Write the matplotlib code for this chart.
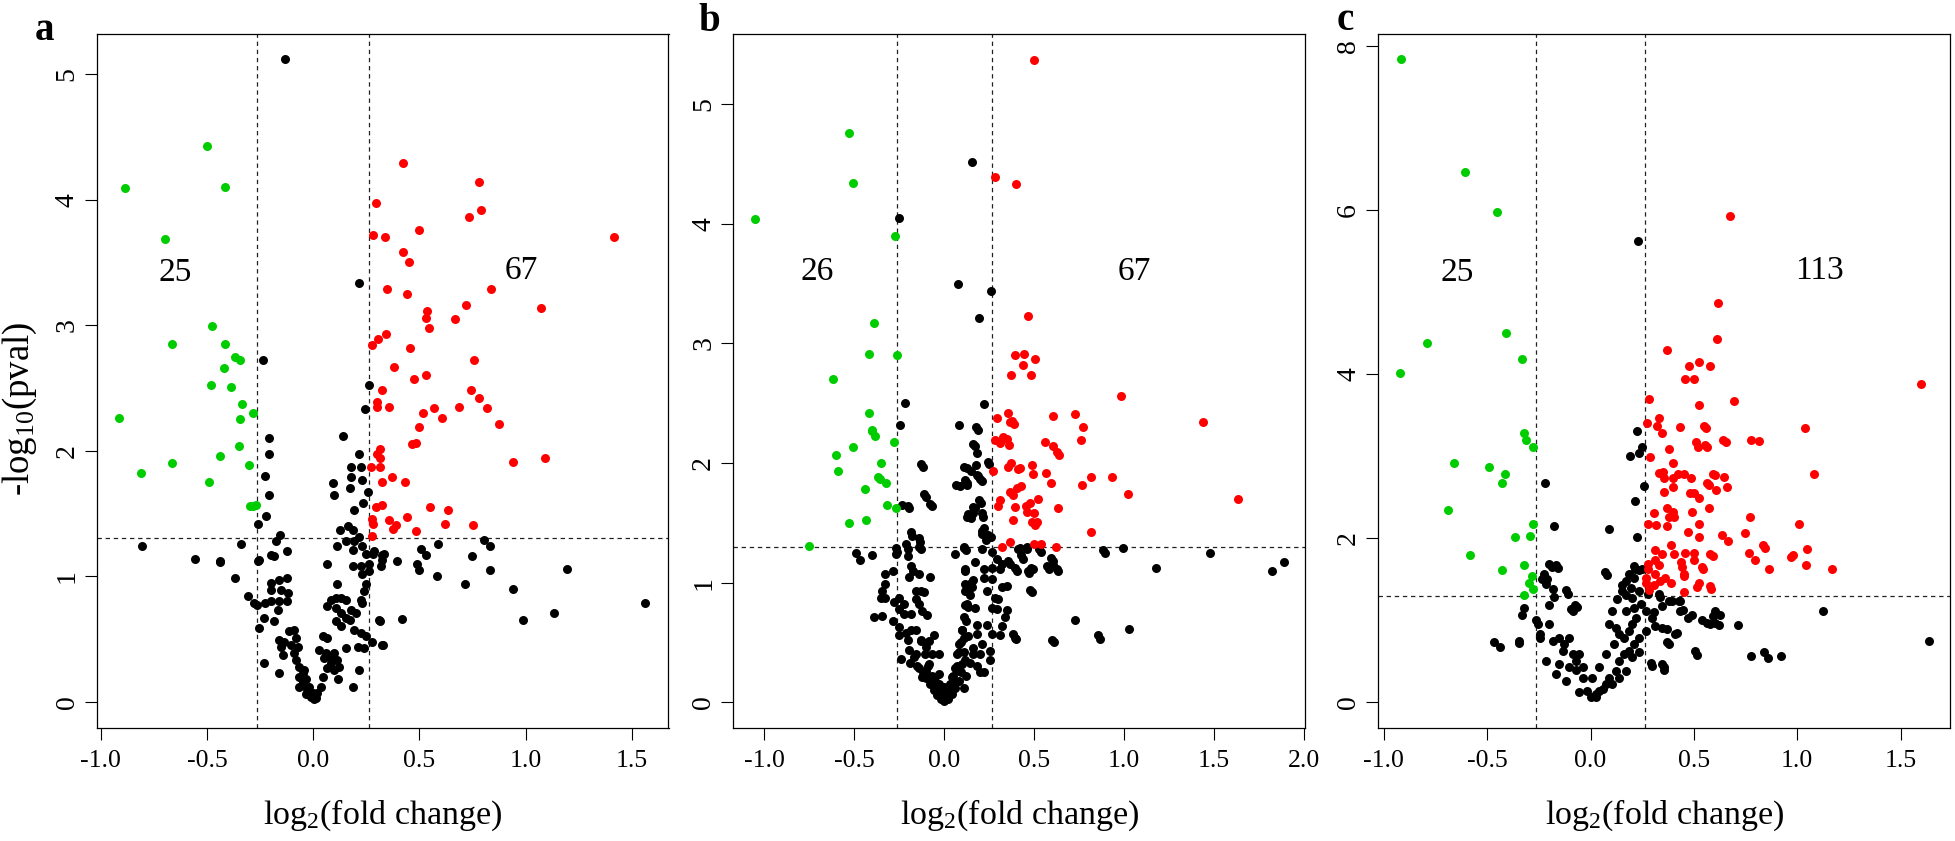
import matplotlib
matplotlib.use('Agg')
import matplotlib.pyplot as plt

plt.rcParams['font.family'] = ['Liberation Serif', 'DejaVu Serif']
plt.rcParams['mathtext.fontset'] = 'custom'
plt.rcParams['mathtext.rm'] = 'Liberation Serif'
plt.rcParams['mathtext.it'] = 'Liberation Serif:italic'
plt.rcParams['axes.unicode_minus'] = False

# ---------------- data: panel a ----------------
a_down = [(-0.886,4.09),(-0.498,4.43),(-0.416,4.10),(-0.696,3.69),(-0.478,2.99),(-0.667,2.85),
          (-0.414,2.85),(-0.369,2.75),(-0.343,2.72),(-0.418,2.66),(-0.482,2.52),(-0.388,2.51),
          (-0.337,2.37),(-0.916,2.26),(-0.282,2.30),(-0.343,2.25),(-0.351,2.04),(-0.441,1.96),
          (-0.667,1.90),(-0.304,1.89),(-0.810,1.82),(-0.492,1.75),(-0.296,1.56),(-0.271,1.57),
          (-0.285,1.56)]
a_up = [(0.424,4.29),(0.782,4.14),(0.298,3.97),(0.790,3.92),(0.733,3.86),(0.496,3.76),(0.280,3.72),
        (0.339,3.70),(1.416,3.70),(0.424,3.58),(0.449,3.50),(0.347,3.29),(0.839,3.29),(0.443,3.25),
        (0.720,3.16),(1.073,3.14),(0.535,3.11),(0.533,3.06),(0.667,3.05),(0.543,2.98),(0.345,2.93),
        (0.306,2.89),(0.278,2.84),(0.455,2.82),(0.757,2.72),(0.380,2.67),(0.533,2.60),(0.476,2.57),
        (0.324,2.48),(0.745,2.48),(0.780,2.42),(0.302,2.39),(0.300,2.35),(0.359,2.35),(0.567,2.34),
        (0.688,2.35),(0.818,2.34),(0.518,2.30),(0.606,2.26),(0.876,2.21),(0.496,2.19),(0.316,2.01),
        (0.465,2.05),(0.484,2.06),(0.316,1.94),(1.090,1.94),(0.939,1.91),(0.316,1.87),(0.271,1.87),
        (0.369,1.79),(0.324,1.75),(0.433,1.75),(0.324,1.57),(0.296,1.55),(0.549,1.55),(0.635,1.53),
        (0.278,1.46),(0.441,1.47),(0.357,1.45),(0.282,1.42),(0.620,1.42),(0.388,1.41),(0.753,1.41),
        (0.378,1.38),(0.486,1.36),(0.276,1.32),(0.300,1.97)]
a_ns = [(-0.131,5.12),(0.214,3.34),(-0.235,2.72),(0.263,2.52),(0.245,2.33),(0.141,2.12),(-0.210,2.10),
        (-0.208,1.97),(0.218,1.97),(0.180,1.87),(0.223,1.87),(-0.226,1.80),(0.177,1.79),(0.231,1.77),
        (0.094,1.74),(0.172,1.70),(0.258,1.67),(0.097,1.65),(-0.206,1.65),(0.233,1.58),(0.194,1.53),
        (-0.224,1.48),(-0.260,1.42),(0.163,1.40),(0.189,1.37),(0.127,1.37),(-0.158,1.33),(-0.338,1.26),
        (-0.175,1.28),(-0.125,1.20),(0.114,1.24),(0.153,1.28),(0.192,1.28),(0.216,1.31),(0.189,1.21),
        (0.231,1.24),(0.247,1.18),(-0.198,1.17),(-0.183,1.16),(-0.441,1.12),(-0.261,1.12),(0.067,1.10),
        (0.189,1.08),(0.225,1.08),(0.263,1.10),(0.280,1.18),(0.284,1.20),(0.325,1.17),(0.325,1.13),
        (0.317,1.08),(0.335,1.18),(0.395,1.12),(-0.367,0.99),(0.231,1.02),(0.263,1.04),(-0.198,0.95),
        (-0.159,0.97),(-0.125,0.99),(0.111,0.94),(0.247,0.94),(0.239,0.88),(0.223,0.81),(-0.198,0.89),
        (-0.152,0.89),(-0.120,0.87),(-0.305,0.84),(-0.277,0.79),(-0.225,0.79),(-0.198,0.80),(-0.159,0.80),
        (-0.125,0.80),(-0.164,0.73),(-0.183,0.64),(-0.230,0.67),(-0.253,0.59),(0.083,0.81),(0.106,0.83),
        (0.130,0.83),(0.153,0.81),(0.067,0.76),(0.106,0.75),(0.130,0.71),(0.177,0.73),(0.200,0.71),
        (0.231,0.79),(0.106,0.64),(0.130,0.60),(0.153,0.67),(0.172,0.65),(0.192,0.57),(0.223,0.55),
        (0.247,0.52),(0.278,0.48),(0.239,0.43),(0.309,0.65),(0.325,0.45),(0.153,0.43),(0.213,0.44),
        (-0.112,0.56),(-0.089,0.57),(-0.081,0.51),(-0.159,0.49),(-0.136,0.48),(-0.152,0.44),(-0.105,0.45),
        (-0.073,0.44),(-0.141,0.37),(-0.089,0.39),(-0.230,0.31),(-0.159,0.23),(-0.081,0.33),(-0.066,0.28),
        (-0.050,0.23),(-0.034,0.18),(-0.019,0.12),(-0.003,0.07),(0.005,0.02),(-0.050,0.16),(-0.027,0.10),
        (0.020,0.07),(0.036,0.12),(0.047,0.20),(0.067,0.27),(0.083,0.31),(0.098,0.39),(0.052,0.35),
        (0.083,0.36),(0.044,0.52),(0.067,0.51),(0.028,0.41),(0.114,0.33),(0.122,0.28),(0.098,0.25),
        (0.216,0.25),(0.189,0.12),(-0.011,0.04),(0.013,0.03),(-0.034,0.06),(-0.066,0.20),(-0.042,0.25),
        (-0.066,0.12),(0.119,0.18),(0.059,0.39),(-0.808,1.24),(-0.557,1.14),(-0.437,1.11),(-0.257,1.13),
        (-0.265,0.77),(0.804,1.29),(0.831,1.24),(0.590,1.26),(0.509,1.22),(0.531,1.17),(0.490,1.10),
        (0.500,1.05),(0.585,1.00),(0.748,1.16),(0.832,1.05),(0.715,0.94),(0.943,0.90),(1.193,1.06),
        (1.564,0.79),(0.987,0.65),(1.136,0.71),(0.417,0.66),(0.314,0.64),(0.328,0.45)]

# ---------------- data: panel b ----------------
b_down = [(-1.054,4.04),(-0.532,4.76),(-0.508,4.34),(-0.272,3.90),(-0.392,3.17),(-0.421,2.91),
          (-0.265,2.90),(-0.621,2.70),(-0.416,2.42),(-0.400,2.27),(-0.383,2.23),(-0.282,2.18),
          (-0.510,2.13),(-0.602,2.07),(-0.354,2.00),(-0.590,1.93),(-0.359,1.87),(-0.327,1.83),
          (-0.443,1.78),(-0.318,1.65),(-0.267,1.62),(-0.532,1.50),(-0.433,1.52),(-0.751,1.31),
          (-0.404,2.28),(-0.366,1.88)]
b_up = [(0.501,5.37),(0.282,4.39),(0.397,4.33),(0.464,3.23),(0.392,2.90),(0.443,2.91),(0.505,2.87),
        (0.438,2.82),(0.368,2.74),(0.481,2.74),(0.984,2.56),(1.439,2.34),(0.291,2.38),(0.354,2.42),
        (0.363,2.34),(0.390,2.33),(0.604,2.39),(0.724,2.41),(0.770,2.30),(0.282,2.19),(0.308,2.17),
        (0.325,2.22),(0.349,2.20),(0.361,2.15),(0.558,2.18),(0.604,2.14),(0.760,2.19),(0.640,2.07),
        (0.272,1.93),(0.354,1.97),(0.371,2.00),(0.412,1.95),(0.421,1.96),(0.486,1.98),(0.493,1.91),
        (0.566,1.92),(0.595,1.83),(0.813,1.88),(0.934,1.88),(0.765,1.82),(1.020,1.74),(0.366,1.76),
        (0.380,1.73),(0.402,1.79),(0.428,1.81),(0.308,1.69),(0.298,1.64),(0.392,1.63),(0.452,1.64),
        (0.474,1.67),(0.520,1.70),(0.498,1.58),(0.462,1.59),(0.633,1.62),(1.632,1.70),(0.380,1.52),
        (0.486,1.51),(0.517,1.51),(0.505,1.48),(0.363,1.34),(0.816,1.42),(0.498,1.32),(0.536,1.32),
        (0.318,1.30),(0.623,1.30),(0.378,2.35),(0.628,2.09)]
b_ns = [(0.152,4.52),(-0.250,4.05),(0.075,3.50),(0.258,3.44),(0.193,3.21),(-0.221,2.50),(0.219,2.49),
        (-0.245,2.32),(0.079,2.32),(0.188,2.28),(0.171,2.14),(0.183,2.08),(-0.120,1.97),(0.111,1.97),
        (0.176,1.98),(0.250,1.99),(0.149,1.93),(0.188,1.89),(0.209,1.85),(0.087,1.81),(0.128,1.83),
        (-0.103,1.72),(-0.070,1.64),(-0.236,1.65),(-0.195,1.62),(0.205,1.67),(0.173,1.62),(0.159,1.58),
        (0.147,1.54),(0.214,1.55),(-0.181,1.39),(0.209,1.43),(0.258,1.38),(-0.135,1.34),(-0.265,1.26),
        (-0.200,1.28),(-0.130,1.28),(0.118,1.27),(0.412,1.28),(0.462,1.28),(0.539,1.26),(0.895,1.25),
        (0.992,1.29),(1.475,1.25),(-0.489,1.25),(-0.467,1.19),(-0.404,1.23),(1.179,1.12),(1.820,1.10),
        (1.887,1.17),(0.486,0.92),(0.724,0.69),(0.611,0.50),(0.866,0.53),(1.028,0.61),(0.397,0.53),
        (0.602,1.18),(0.583,1.11),(0.631,1.10),(0.440,1.20),(0.472,1.08),(0.491,1.11),(0.402,1.10),
        (0.366,1.16),(0.318,1.16),
        (-0.128,1.99),(0.066,1.82),(-0.114,1.74),(-0.077,1.66),(-0.202,1.64),(0.126,1.55),(-0.187,1.42),
        (-0.141,1.37),(-0.141,1.30),(-0.211,1.32),(-0.266,1.29),(-0.266,1.24),(-0.202,1.22),(0.061,1.24),
        (0.107,1.29),(-0.288,1.10),(-0.331,1.07),(-0.185,1.14),(-0.176,1.10),(-0.195,1.05),(-0.141,1.07),
        (-0.082,1.05),(0.117,1.10),(-0.331,0.99),(-0.344,0.93),(-0.353,0.87),(-0.331,0.87),(-0.252,0.87),
        (-0.224,0.82),(-0.160,0.93),(-0.132,0.93),(-0.114,0.92),(-0.160,0.86),(-0.141,0.82),(-0.123,0.76),
        (-0.095,0.73),(-0.279,0.84),(-0.252,0.78),(-0.224,0.74),(-0.187,0.74),(-0.390,0.71),(-0.344,0.72),
        (-0.288,0.68),(-0.252,0.63),(-0.252,0.56),(-0.215,0.58),(-0.187,0.60),(-0.132,0.51),(-0.086,0.51),
        (-0.058,0.56),(-0.104,0.46),(-0.068,0.40),(-0.031,0.40),(-0.243,0.36),(-0.197,0.44),(-0.160,0.40),
        (-0.141,0.29),(-0.104,0.26),(-0.068,0.21),(-0.031,0.15),(0.006,0.07),(-0.031,0.24),(-0.086,0.32),
        (-0.123,0.21),(0.043,0.21),(0.080,0.26),(0.117,0.35),(0.107,0.54),(0.107,0.71),(0.126,0.82),
        (0.126,0.93),(0.117,0.99),(0.025,0.10),(0.052,0.15),(-0.003,0.13),(-0.058,0.14),(0.080,0.49),
        (0.098,0.60),(0.070,0.40),(0.061,0.29),
        (0.177,2.30),(0.162,2.16),(0.240,2.01),(0.125,1.96),(0.181,1.90),(0.199,1.87),(0.113,1.86),
        (0.125,1.82),(0.194,1.69),(0.162,1.63),(0.209,1.58),(0.131,1.57),(0.218,1.46),(0.209,1.41),
        (0.245,1.40),(0.230,1.36),(0.107,1.30),(0.212,1.28),(0.264,1.26),(0.291,1.20),(0.420,1.29),
        (0.457,1.30),(0.527,1.28),(0.429,1.23),(0.356,1.18),(0.393,1.12),(0.466,1.10),(0.481,1.12),
        (0.591,1.21),(0.573,1.14),(0.628,1.11),(0.604,1.15),(0.880,1.27),(0.168,1.17),(0.218,1.11),
        (0.116,1.11),(0.264,1.12),(0.310,1.11),(0.162,1.02),(0.218,1.04),(0.264,1.03),(0.319,0.96),
        (0.346,0.97),(0.475,0.94),(0.116,0.93),(0.153,0.96),(0.116,0.81),(0.171,0.79),(0.236,0.93),
        (0.282,0.87),(0.300,0.86),(0.264,0.79),(0.291,0.78),(0.346,0.77),(0.337,0.71),(0.319,0.64),
        (0.264,0.57),(0.310,0.56),(0.383,0.57),(0.392,0.54),(0.600,0.52),(0.855,0.56),(0.181,0.65),
        (0.181,0.57),(0.236,0.65),(0.254,0.43),(0.254,0.35),(0.199,0.25),(0.107,0.12),(0.162,0.40),
        (0.208,0.49),
        (-0.150,0.30),(-0.120,0.25),(-0.100,0.20),(-0.080,0.15),(-0.060,0.10),(-0.040,0.06),(-0.020,0.03),
        (0.000,0.01),(0.020,0.03),(0.040,0.07),(0.060,0.12),(0.080,0.18),(0.090,0.25),(0.100,0.32),
        (0.110,0.42),(-0.170,0.38),(-0.190,0.33),(-0.090,0.30),(-0.050,0.18),(0.030,0.15),(0.050,0.22),
        (0.070,0.30),(0.080,0.42),(0.090,0.50),(0.100,0.60),(0.120,0.68),(0.130,0.80),(0.140,0.90),
        (0.150,1.00),(-0.010,0.08),(0.010,0.12),(-0.030,0.12),(-0.070,0.22),(0.140,0.33),(0.160,0.45),
        (0.130,0.55),(0.120,0.22),(0.180,0.30),(0.200,0.40),(0.220,0.25),(-0.110,0.40),(-0.130,0.52),
        (-0.160,0.60),(-0.200,0.52)]

# ---------------- data: panel c ----------------
c_down = [(-0.919,7.84),(-0.607,6.47),(-0.451,5.98),(-0.411,4.50),(-0.791,4.38),(-0.330,4.19),
          (-0.923,4.01),(-0.320,3.29),(-0.314,3.20),(-0.279,3.11),(-0.660,2.92),(-0.492,2.87),
          (-0.413,2.78),(-0.427,2.67),(-0.688,2.34),(-0.279,2.18),(-0.294,2.03),(-0.368,2.01),
          (-0.583,1.80),(-0.324,1.68),(-0.427,1.61),(-0.283,1.54),(-0.300,1.46),(-0.277,1.38),
          (-0.324,1.31)]
c_up = [(0.674,5.93),(0.617,4.87),(0.611,4.43),(0.372,4.30),(0.526,4.15),(0.478,4.10),(0.579,4.10),
        (0.455,3.94),(0.500,3.94),(1.597,3.88),(0.285,3.70),(0.692,3.68),(0.526,3.62),(0.330,3.47),
        (0.271,3.41),(0.320,3.37),(0.433,3.36),(0.557,3.34),(1.036,3.34),(0.348,3.28),(0.508,3.18),
        (0.777,3.20),(0.814,3.19),(0.654,3.17),(0.520,3.11),(0.565,3.11),(0.379,3.09),(0.289,2.99),
        (0.399,2.92),(0.332,2.80),(0.350,2.81),(0.423,2.79),(0.453,2.79),(0.399,2.74),(0.484,2.73),
        (0.354,2.73),(0.601,2.77),(0.646,2.75),(1.083,2.79),(0.573,2.65),(0.609,2.59),(0.662,2.63),
        (0.399,2.62),(0.354,2.56),(0.480,2.55),(0.500,2.55),(0.524,2.49),(0.370,2.37),(0.397,2.32),
        (0.575,2.37),(0.490,2.32),(0.379,2.26),(0.405,2.26),(0.306,2.31),(0.773,2.26),(0.277,2.18),
        (0.318,2.16),(0.370,2.15),(0.526,2.18),(1.010,2.18),(0.470,2.08),(0.636,2.04),(0.745,2.06),
        (0.526,2.01),(0.666,1.97),(0.387,1.92),(0.314,1.86),(0.344,1.81),(0.405,1.81),(0.455,1.82),
        (0.500,1.82),(0.844,1.88),(0.767,1.82),(1.047,1.87),(0.972,1.77),(0.978,1.80),(0.593,1.79),
        (0.310,1.73),(0.439,1.71),(0.500,1.73),(0.794,1.73),(0.332,1.67),(0.443,1.65),(1.043,1.67),
        (0.277,1.69),(0.545,1.62),(0.864,1.63),(1.170,1.63),(0.277,1.62),(0.314,1.57),(0.451,1.56),
        (0.269,1.52),(0.358,1.52),(0.453,1.54),(0.334,1.48),(0.389,1.46),(0.306,1.43),(0.516,1.41),
        (0.585,1.38),(0.451,1.35),(0.269,1.45),(0.285,1.37),(0.547,3.37),(0.555,3.14),(0.643,3.20),
        (0.590,2.79),(0.563,2.68),(0.836,1.92),(0.579,1.81),(0.539,1.65),(0.576,1.42),(0.523,1.45)]
c_ns = [(0.229,5.62),(0.227,3.31),(0.247,3.11),(0.233,3.04),(0.190,3.00),(0.257,2.64),(-0.219,2.68),
        (0.213,2.45),(-0.176,2.15),(0.089,2.11),(0.223,2.01),(-0.188,1.65),(-0.158,1.64),(0.213,1.62),
        (0.247,1.62),(0.079,1.55),(-0.233,1.50),(-0.209,1.50),(1.123,1.11),(1.638,0.75),(0.713,0.94),
        (0.777,0.56),(0.840,0.61),(0.858,0.54),(0.921,0.57),(0.516,0.58),(-0.468,0.73),(-0.439,0.67),
        (-0.346,0.72),(-0.334,1.07),(-0.322,1.15),(-0.253,0.96),(-0.243,0.79),(-0.107,1.32),(-0.067,1.16),
        (-0.087,1.11),(0.561,0.97),(0.591,1.05),(0.628,1.07),(0.601,0.97),(0.621,0.94),(0.429,1.23),
        (0.449,1.13),(0.470,1.03),(0.419,0.85),(0.379,0.71),(0.298,0.44),(0.354,0.43),(0.354,0.39),
        (0.338,1.29),(0.379,1.23),(-0.199,1.69),(-0.167,1.68),(-0.223,1.56),(-0.215,1.44),(-0.183,1.38),
        (-0.175,1.28),(-0.199,1.19),(-0.119,1.37),(-0.074,1.19),(-0.095,1.14),(0.070,1.59),(0.210,1.66),
        (0.234,1.61),(0.186,1.56),(0.170,1.48),(0.154,1.36),(0.130,1.26),(0.106,1.11),(0.090,0.95),
        (0.122,0.91),(0.138,0.83),(0.114,0.71),(0.074,0.59),(0.042,0.43),(0.009,0.30),(-0.015,0.14),
        (0.210,1.52),(0.234,1.36),(0.242,1.20),(0.266,1.11),(0.298,1.03),(0.314,0.93),(0.266,0.87),
        (0.234,0.79),(0.210,0.71),(0.234,0.61),(0.202,0.55),(0.170,0.38),(0.138,0.30),(0.106,0.22),
        (0.058,0.16),(0.025,0.10),(0.279,1.32),(0.330,1.32),(0.346,1.18),(0.306,1.10),(0.394,1.24),
        (0.434,1.23),(0.434,1.11),(0.346,0.91),(0.370,0.89),(0.410,0.83),(0.370,0.73),(0.506,0.63),
        (0.290,0.48),(0.346,0.47),(0.490,1.07),(0.538,1.01),(0.579,0.95),(0.603,1.11),(-0.263,1.01),
        (-0.247,0.83),(-0.344,0.75),(-0.199,0.95),(-0.183,0.75),(-0.215,0.51),(-0.151,0.79),(-0.127,0.71),
        (-0.103,0.79),(-0.135,0.63),(-0.087,0.59),(-0.151,0.47),(-0.103,0.43),(-0.071,0.39),(-0.039,0.30),
        (-0.055,0.12),(-0.119,0.26),(-0.167,0.34),(-0.071,0.51),(-0.039,0.43),(-0.055,0.59),(0.002,0.06),
        (0.042,0.14),(0.025,0.06),(0.074,0.22),(0.090,0.30),(0.122,0.38),(0.138,0.51),(0.162,0.59),
        (0.186,0.63),(0.162,0.79),(0.186,0.87),(0.202,0.95),(0.218,1.03),(0.170,1.11),(0.210,1.15),
        (0.202,1.27),(0.170,1.31),(0.194,1.39),(0.154,1.43)]

# axis settings
panels = [
    dict(tag='a', down=a_down, up=a_up, ns=a_ns, xlim=(-1.018, 1.673), ylim=(-0.205, 5.32),
         xticks=[-1.0, -0.5, 0.0, 0.5, 1.0, 1.5], yticks=[0, 1, 2, 3, 4, 5],
         n_down='25', n_up='67', pos_down=(-0.649, 3.42), pos_up=(0.982, 3.43),
         left=97.0, tag_xy=(45, 40)),
    dict(tag='b', down=b_down, up=b_up, ns=b_ns, xlim=(-1.172, 2.005), ylim=(-0.211, 5.587),
         xticks=[-1.0, -0.5, 0.0, 0.5, 1.0, 1.5, 2.0], yticks=[0, 1, 2, 3, 4, 5],
         n_down='26', n_up='67', pos_down=(-0.708, 3.60), pos_up=(1.057, 3.60),
         left=733.5, tag_xy=(709, 31)),
    dict(tag='c', down=c_down, up=c_up, ns=c_ns, xlim=(-1.026, 1.739), ylim=(-0.307, 8.15),
         xticks=[-1.0, -0.5, 0.0, 0.5, 1.0, 1.5], yticks=[0, 2, 4, 6, 8],
         n_down='25', n_up='113', pos_down=(-0.644, 5.24), pos_up=(1.107, 5.26),
         left=1378.5, tag_xy=(1345, 30)),
]
fc_cut = 0.263
p_cut = 1.30103

W, H = 1956, 841
fig = plt.figure(figsize=(W / 100, H / 100), dpi=100)
bottom_px, top_px, width_px = 727.5, 34.0, 571.5
GREEN, RED = '#00CD00', '#FF0000'

for i, p in enumerate(panels):
    ax = fig.add_axes([p['left'] / W, (H - bottom_px) / H, width_px / W, (bottom_px - top_px) / H])
    for pts, col in ((p['ns'], 'black'), (p['down'], GREEN), (p['up'], RED)):
        xs = [q[0] for q in pts]
        ys = [q[1] for q in pts]
        ax.scatter(xs, ys, s=42, c=col, linewidths=0, zorder=3)
    dash = (0, (3.5, 3.0))
    ax.axhline(p_cut, color='#222222', lw=0.9, ls=dash, zorder=2)
    ax.axvline(-fc_cut, color='#222222', lw=0.9, ls=dash, zorder=2)
    ax.axvline(fc_cut, color='#222222', lw=0.9, ls=dash, zorder=2)
    ax.set_xlim(*p['xlim'])
    ax.set_ylim(*p['ylim'])
    ax.set_xticks(p['xticks'])
    ax.set_xticklabels(['%.1f' % t for t in p['xticks']])
    ax.set_yticks(p['yticks'])
    ax.set_yticklabels(['%d' % t for t in p['yticks']])
    ax.tick_params(axis='both', direction='out', length=8.5, width=0.8, labelsize=18.5, colors='black')
    ax.tick_params(axis='x', pad=8)
    ax.tick_params(axis='y', pad=4, labelrotation=90, labelsize=20)
    for lbl in ax.get_yticklabels():
        lbl.set_verticalalignment('center')
    for sp in ax.spines.values():
        sp.set_linewidth(0.9)
        sp.set_color('black')
    ax.text(p['pos_down'][0], p['pos_down'][1], p['n_down'], fontsize=24, ha='center', va='center')
    ax.text(p['pos_up'][0], p['pos_up'][1], p['n_up'], fontsize=24, ha='center', va='center')
    ax.set_xlabel(r'log$_{\mathregular{2}}$(fold change)', fontsize=24.5)
    ax.xaxis.set_label_coords(0.5, (bottom_px - 798) / (bottom_px - top_px))
    if i == 0:
        ax.set_ylabel(r'-log$_{\mathregular{10}}$(pval)', fontsize=26.5)
        ax.yaxis.set_label_coords((39 - p['left']) / width_px, 0.46)
    fig.text(p['tag_xy'][0] / W, 1 - p['tag_xy'][1] / H, p['tag'], fontsize=28, fontweight='bold',
             ha='center', va='baseline')

fig.savefig('out.png', dpi=100)
